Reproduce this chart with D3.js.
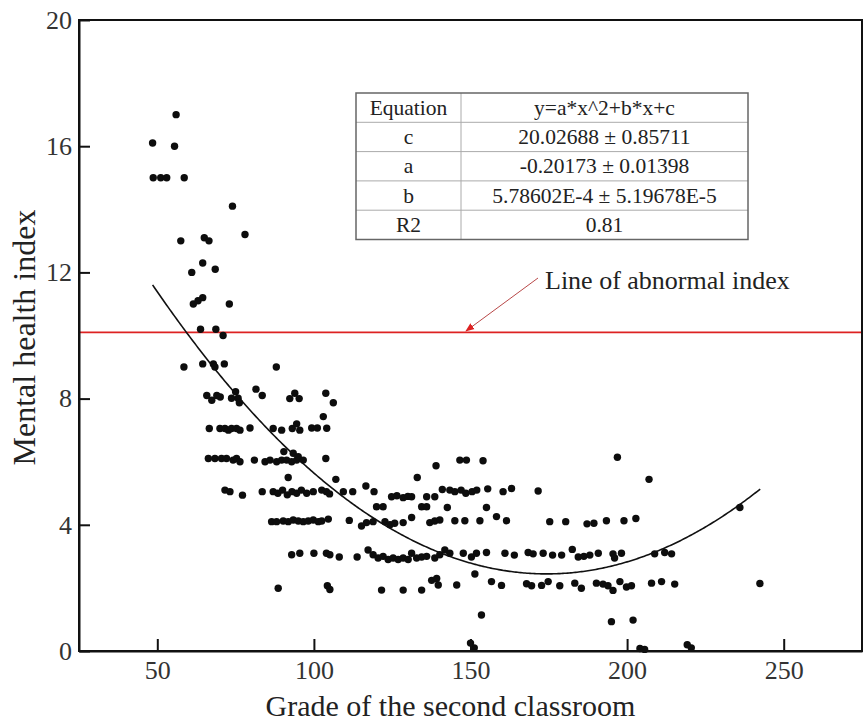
<!DOCTYPE html>
<html><head><meta charset="utf-8">
<script src="https://cdn.jsdelivr.net/npm/d3@7"></script>
<style>body{margin:0;background:#fff}</style>
</head><body><svg id="c" width="863" height="724"></svg>
<script>
// ---- data ----
const grades = [
 56,48.5,55.5,48.7,51.1,53,58.6,74,57.5,65,66.5,78,64.5,61,68.5,61.5,63,64.5,73,63.8,68.7,71,58.5,64.5,67.9,68.4,71.4,88,
 65.8,67.4,69,70.1,73.7,75,75.8,76.2,81.5,83.5,92.3,93.9,95.3,103.8,106.2,
 66.6,70,71.6,72.7,73.7,75.3,76.4,79.6,87,89.7,93.1,94.5,95.5,99.3,101.1,103,104.1,
 66.3,68.4,70.5,72.1,74.2,75.3,76.4,81,84.4,86,88.1,89.7,90.4,91.3,92.9,93.4,94.5,95,96.6,103.8,139,146.6,148.7,154,196.9,
 91.8,107,133,207,
 71.6,73.2,77.2,83.5,87,88.5,90,91.5,93,94.5,96,97.7,99.8,102.5,104,105,109.4,112.4,116.6,119.2,124.8,126.5,128.5,130,131.2,136,138.6,141,143.4,145,147,148.5,150.5,152,155.5,160.4,163.1,171.6,
 120,122.1,134.4,136,142.6,155.1,236,
 86.5,88.1,90.2,91.8,93.4,95,96.6,98.2,99.8,101.4,102.5,104.6,111.3,115.2,116.8,118.9,122.7,124.3,125.8,128.5,131.2,137,138.6,140.2,145,148.2,153,158.3,161.5,175.3,180.4,187.2,189.4,193.4,199,202.8,
 92.9,95.5,100,104,105.1,108.1,113.8,117.3,118.9,120.5,122.1,123.7,125.3,126.9,128.5,130.1,131.2,132.8,134.4,136,138.6,140.2,141.8,143.4,147.7,150.3,151.9,155.1,161,164,168.4,170,173.2,176.2,179.1,182.5,184.4,186.2,188.1,190.8,195.5,196,198.2,208.8,212,214.2,
 151.4,
 88.6,104.3,105.1,121.6,128.5,134.4,137.6,139.2,139.7,145.6,156.7,159.9,167.9,169.5,172.7,174.8,178.5,183.3,185.4,190.2,192.3,193.9,195.5,197.7,199.8,201.4,207.8,211,215.2,242.4,
 153.5,195,201.9,
 150,151.2,204.1,205.6,219.2,220.5
];
const healthIndex = [
 17,16.1,16,15,15,15,15,14.1,13,13.1,13,13.2,12.3,12,12.1,11.0,11.1,11.2,11,10.2,10.2,10,9,9.1,9.1,9,9.1,9,
 8.1,7.95,8.1,8.05,8.01,8.22,8.01,7.87,8.3,8.1,8.0,8.17,8.0,8.17,7.87,
 7.05,7.05,7.05,7.0,7.05,7.05,7.0,7.07,7.05,7.0,7.05,7.2,7.0,7.07,7.07,7.43,7.06,
 6.1,6.1,6.1,6.1,6.05,6.1,6.0,6.05,6.0,6.05,6.0,6.05,6.32,6.05,6.0,6.27,6.05,6.16,6.05,6.1,5.87,6.05,6.05,6.03,6.14,
 5.5,5.44,5.5,5.44,
 5.1,5.05,4.94,5.05,5.05,5.0,5.1,4.95,5.05,5.0,5.1,5.0,5.05,5.1,5.05,4.98,5.05,5.05,5.23,5.05,4.89,4.92,4.86,4.9,4.89,4.89,4.89,5.12,5.1,5.05,5.1,5.0,5.05,5.1,5.14,5.05,5.15,5.07,
 4.57,4.57,4.57,4.57,4.55,4.55,4.55,
 4.1,4.1,4.12,4.1,4.15,4.12,4.1,4.12,4.15,4.1,4.12,4.18,4.14,3.96,4.07,4.1,4.1,4.0,4.05,4.07,4.23,4.07,4.12,4.15,4.13,4.13,4.13,4.26,4.13,4.1,4.1,4.03,4.05,4.13,4.13,4.2,
 3.05,3.1,3.1,3.1,3.05,2.98,2.98,3.2,3.05,2.95,3.0,2.9,2.95,2.9,2.95,2.9,3.1,2.95,2.98,3.0,2.95,3.05,3.2,3.1,3.1,2.98,3.1,3.12,3.1,3.04,3.12,3.08,3.1,3.04,3.04,3.22,2.98,3.0,3.04,3.1,3.08,2.95,3.1,3.08,3.12,3.08,
 2.44,
 1.99,2.07,1.95,1.93,1.93,1.93,2.24,2.3,2.09,2.09,2.2,2.08,2.13,2.07,2.08,2.2,2.07,2.15,1.99,2.15,2.12,2.07,1.92,2.2,2.03,2.07,2.15,2.2,2.12,2.14,
 1.14,0.93,0.98,
 0.25,0.1,0.08,0.05,0.2,0.1
];
const xTicks = [50, 100, 150, 200, 250];
const yTicks = [0, 4, 8, 12, 16, 20];
const xDomain = [25, 275];
const yDomain = [0, 20];
// fitted curve coefficients as printed in the inset table
const coefC = 20.02688, coefA = -0.20173, coefB = 5.78602e-4;
const fitRange = [48.5, 242.5];
const abnormalLevel = 10.1;
const tableLabels = ["Equation", "c", "a", "b", "R2"];
const tableValues = ["y=a*x^2+b*x+c", "20.02688 \u00b1 0.85711", "-0.20173 \u00b1 0.01398", "5.78602E-4 \u00b1 5.19678E-5", "0.81"];
const annotation = "Line of abnormal index";
const xTitle = "Grade of the second classroom";
const yTitle = "Mental health index";

// ---- drawing ----
const svg = d3.select("#c");
const L = 79, R = 862, T = 20, B = 651;
const serif = "'Liberation Serif', 'DejaVu Serif', serif";
const x = d3.scaleLinear().domain(xDomain).range([L, R]);
const y = d3.scaleLinear().domain(yDomain).range([B, T]);

svg.append("rect").attr("width", 863).attr("height", 724).attr("fill", "#fff");

// abnormal line
svg.append("line")
  .attr("x1", x(xDomain[0])).attr("x2", x(xDomain[1]))
  .attr("y1", y(abnormalLevel)).attr("y2", y(abnormalLevel))
  .attr("stroke", "#dd2222").attr("stroke-width", 1.8);

// fit curve
const fx = d3.range(fitRange[0], fitRange[1] + 0.001, 0.5);
svg.append("path")
  .datum(fx)
  .attr("fill", "none").attr("stroke", "#111").attr("stroke-width", 1.6)
  .attr("d", d3.line().x(d => x(d)).y(d => y(coefB * d * d + coefA * d + coefC)));

// points
svg.append("g").selectAll("circle")
  .data(grades.map((g, i) => [g, healthIndex[i]]))
  .join("circle")
  .attr("cx", d => x(d[0])).attr("cy", d => y(d[1]))
  .attr("r", 3.7).attr("fill", "#0d0d0d");

// frame
svg.append("rect").attr("x", L).attr("y", T).attr("width", R - L).attr("height", B - T)
  .attr("fill", "none").attr("stroke", "#111").attr("stroke-width", 2);

// axes
const gx = svg.append("g").attr("transform", `translate(0,${B})`)
  .call(d3.axisBottom(x).tickValues(xTicks).tickSizeInner(-12).tickSizeOuter(0).tickPadding(10));
const gy = svg.append("g").attr("transform", `translate(${L},0)`)
  .call(d3.axisLeft(y).tickValues(yTicks).tickSizeInner(-11).tickSizeOuter(0).tickPadding(7));
[gx, gy].forEach(g => {
  g.select(".domain").attr("stroke", "#111").attr("stroke-width", 2);
  g.selectAll(".tick line").attr("stroke", "#111").attr("stroke-width", 2);
  g.selectAll(".tick text").attr("font-family", serif).attr("font-size", 26).attr("fill", "#333");
});

// titles
svg.append("text").attr("x", (L + R) / 2 - 20).attr("y", 716)
  .attr("text-anchor", "middle").attr("font-family", serif).attr("font-size", 30).attr("fill", "#222")
  .text(xTitle);
svg.append("text").attr("transform", `translate(35,${(T + B) / 2 + 2}) rotate(-90)`)
  .attr("text-anchor", "middle").attr("font-family", serif).attr("font-size", 32).attr("fill", "#222")
  .text(yTitle);

// annotation + arrow
const defs = svg.append("defs");
defs.append("marker").attr("id", "ah").attr("viewBox", "0 0 10 10").attr("refX", 9).attr("refY", 5)
  .attr("markerWidth", 9).attr("markerHeight", 9).attr("markerUnits", "userSpaceOnUse").attr("orient", "auto")
  .append("path").attr("d", "M0,1 L10,5 L0,9 Z").attr("fill", "#dd2222");
svg.append("line").attr("x1", 538).attr("y1", 278).attr("x2", 466).attr("y2", 331)
  .attr("stroke", "#b84848").attr("stroke-width", 1).attr("marker-end", "url(#ah)");
svg.append("text").attr("x", 545).attr("y", 289)
  .attr("font-family", serif).attr("font-size", 26).attr("fill", "#222").text(annotation);

// inset table
const tx = 356, ty = 93, c1 = 105, c2 = 392 - 105, rh = 29.3;
const tg = svg.append("g").attr("transform", `translate(${tx},${ty})`);
tg.append("rect").attr("width", c1 + c2).attr("height", rh * tableLabels.length).attr("fill", "#fff");
tableLabels.forEach((lab, i) => {
  if (i > 0) tg.append("line").attr("x1", 0).attr("x2", c1 + c2).attr("y1", i * rh).attr("y2", i * rh)
    .attr("stroke", "#aaa").attr("stroke-width", 1);
  tg.append("text").attr("x", c1 / 2).attr("y", i * rh + rh / 2 + 7).attr("text-anchor", "middle")
    .attr("font-family", serif).attr("font-size", 21.5).attr("fill", "#222").text(lab);
  tg.append("text").attr("x", c1 + c2 / 2).attr("y", i * rh + rh / 2 + 7).attr("text-anchor", "middle")
    .attr("font-family", serif).attr("font-size", 21.5).attr("fill", "#222").text(tableValues[i]);
});
tg.append("line").attr("x1", c1).attr("x2", c1).attr("y1", 0).attr("y2", rh * tableLabels.length)
  .attr("stroke", "#aaa").attr("stroke-width", 1);
tg.append("rect").attr("width", c1 + c2).attr("height", rh * tableLabels.length)
  .attr("fill", "none").attr("stroke", "#666").attr("stroke-width", 1.5);
</script>
</body></html>
